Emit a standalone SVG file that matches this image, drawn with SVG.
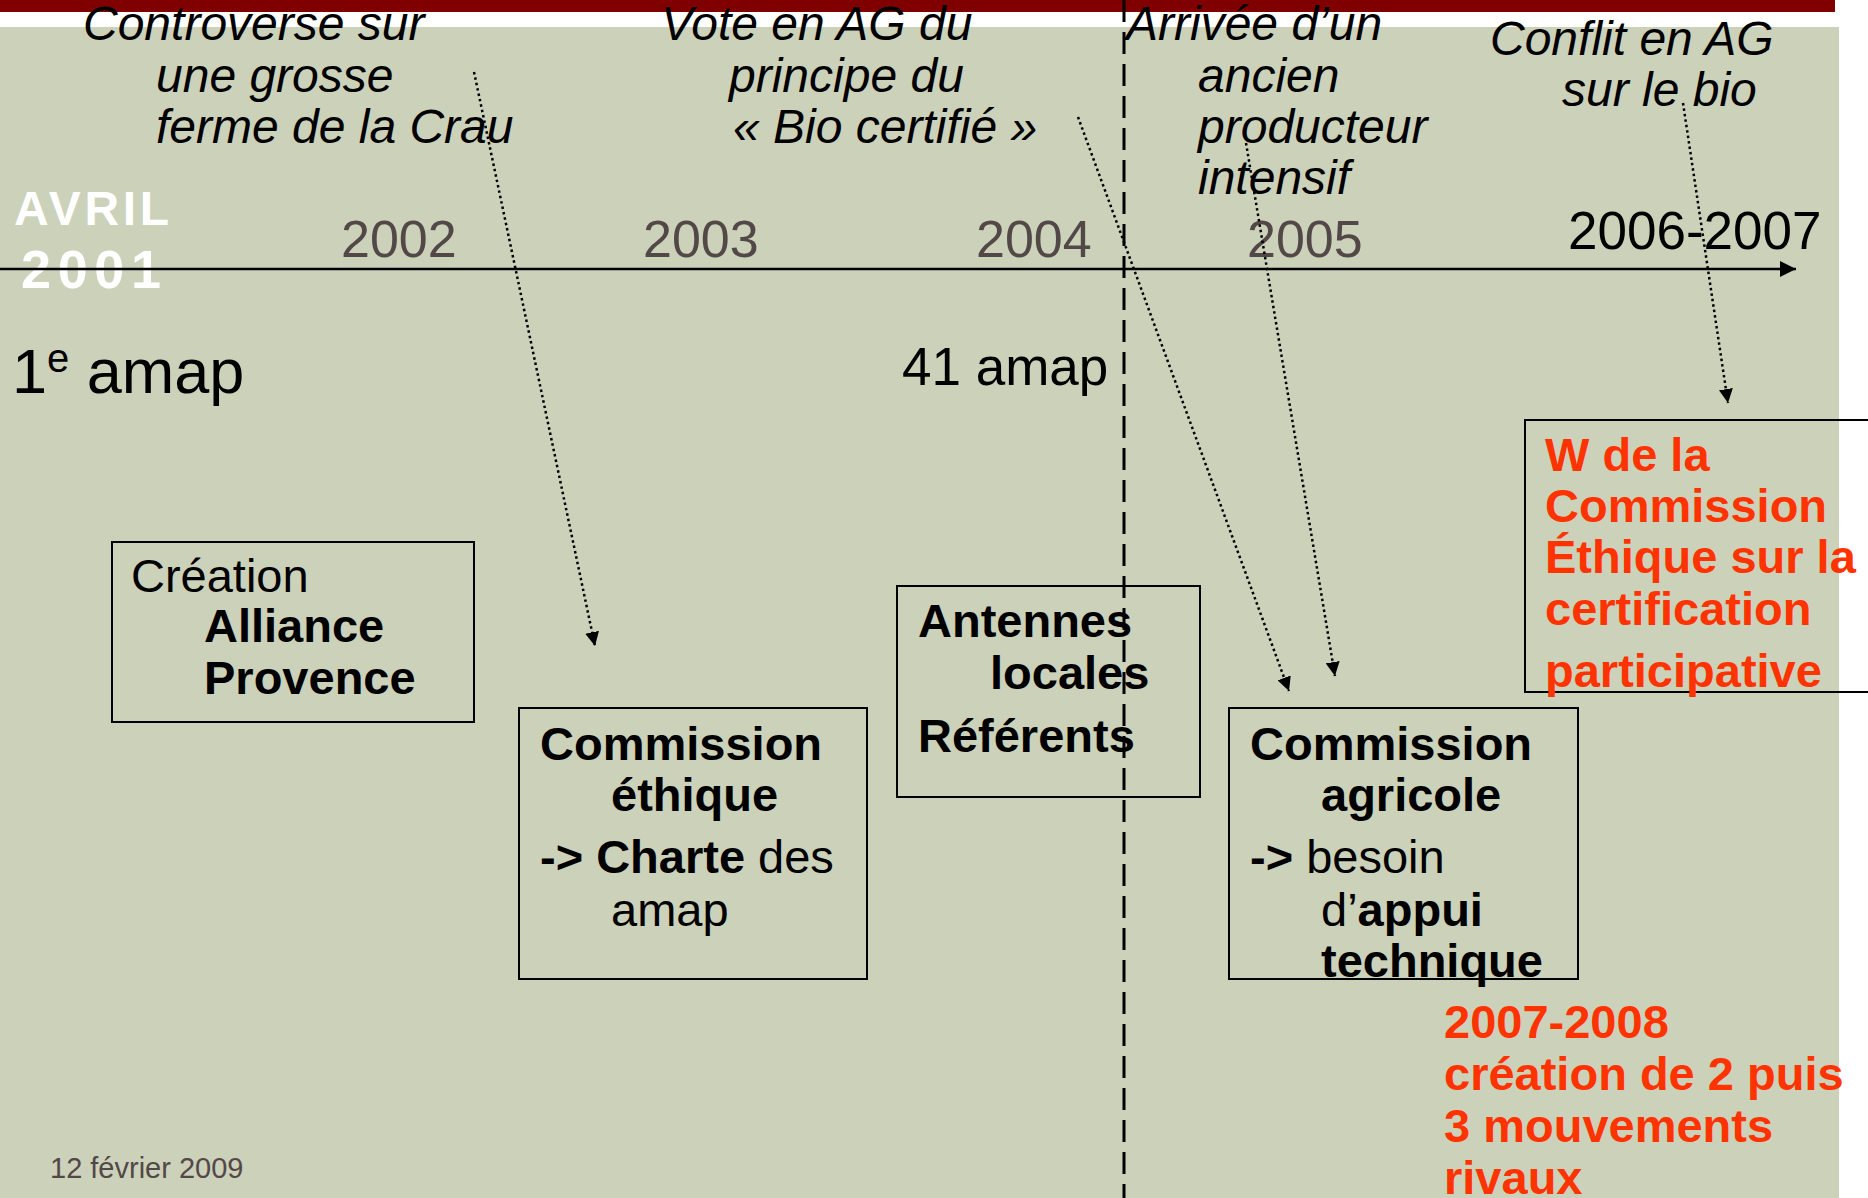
<svg xmlns="http://www.w3.org/2000/svg" width="1868" height="1198" viewBox="0 0 1868 1198">
<style>
  text { font-family: "Liberation Sans", Arial, sans-serif; fill: #000; }
  .it { font-style: italic; font-size: 48px; }
  .yr { font-size: 52px; fill: #534848; }
  .b { font-weight: bold; }
  .bx { fill: none; stroke: #000; stroke-width: 2; }
  .nt { font-size: 47px; }
  .red { fill: #FF3300; font-weight: bold; font-size: 47px; }
  .wh { fill: #fff; font-weight: bold; }
  .dot { fill: none; stroke: #000; stroke-width: 2.5; stroke-dasharray: 2.5 3; }
</style>
<defs>
  <marker id="ah" viewBox="0 0 10 10" refX="10" refY="5" markerWidth="14" markerHeight="14" markerUnits="userSpaceOnUse" orient="auto">
    <path d="M0,0 L10,5 L0,10 Z" fill="#000"/>
  </marker>
  <marker id="axh" viewBox="0 0 10 10" refX="10" refY="5" markerWidth="16" markerHeight="16" markerUnits="userSpaceOnUse" orient="auto">
    <path d="M0,0 L10,5 L0,10 Z" fill="#000"/>
  </marker>
</defs>
<rect x="0" y="0" width="1868" height="1198" fill="#fff"/>
<rect x="0" y="27" width="1839" height="1171" fill="#CCD1BA"/>
<rect x="0" y="0" width="1835" height="12" fill="#800000"/>

<g id="events">
  <text class="it" x="83" y="40">Controverse sur</text>
  <text class="it" x="156" y="92">une grosse</text>
  <text class="it" x="156" y="143">ferme de la Crau</text>
  <text class="it" x="661" y="40">Vote en AG du</text>
  <text class="it" x="729" y="92">principe du</text>
  <text class="it" x="733" y="143">« Bio certifié »</text>
  <text class="it" x="1126" y="40">Arrivée d’un</text>
  <text class="it" x="1198" y="92">ancien</text>
  <text class="it" x="1198" y="143">producteur</text>
  <text class="it" x="1198" y="194">intensif</text>
  <text class="it" x="1490" y="55">Conflit en AG</text>
  <text class="it" x="1562" y="106">sur le bio</text>
</g>

<g id="years">
  <text class="yr" x="341" y="257">2002</text>
  <text class="yr" x="643" y="257">2003</text>
  <text class="yr" x="976" y="257">2004</text>
  <text class="yr" x="1247" y="257">2005</text>
  <text x="1568" y="249" font-size="53">2006-2007</text>
</g>

<g id="avril">
  <text class="wh" x="14" y="225" font-size="48" textLength="155" lengthAdjust="spacing">AVRIL</text>
  <text class="wh" x="21" y="288" font-size="54" textLength="140" lengthAdjust="spacing">2001</text>
</g>

<g id="axis">
  <line x1="0" y1="269" x2="1796" y2="269" stroke="#000" stroke-width="2.5" marker-end="url(#axh)"/>
</g>

<g id="amap1">
  <text x="12" y="393" font-size="63">1<tspan font-size="40" dy="-21">e</tspan><tspan dy="21"> amap</tspan></text>
</g>
<g id="amap41">
  <text x="902" y="385" font-size="53">41 amap</text>
</g>

<g id="node-alliance">
  <rect class="bx" x="112" y="542" width="362" height="180"/>
  <text class="nt" x="131" y="592">Création</text>
  <text class="nt b" x="204" y="642">Alliance</text>
  <text class="nt b" x="204" y="694">Provence</text>
</g>

<g id="node-ethique">
  <rect class="bx" x="519" y="708" width="348" height="271"/>
  <text class="nt b" x="540" y="760">Commission</text>
  <text class="nt b" x="611" y="811">éthique</text>
  <text class="nt" x="540" y="873"><tspan class="b">-&gt; Charte</tspan> des</text>
  <text class="nt" x="611" y="926">amap</text>
</g>

<g id="node-antennes">
  <rect class="bx" x="897" y="586" width="303" height="211"/>
  <text class="nt b" x="918" y="637">Antennes</text>
  <text class="nt b" x="990" y="689">locales</text>
  <text class="nt b" x="918" y="752">Référents</text>
</g>

<g id="node-agricole">
  <rect class="bx" x="1229" y="708" width="349" height="271"/>
  <text class="nt b" x="1250" y="760">Commission</text>
  <text class="nt b" x="1321" y="811">agricole</text>
  <text class="nt" x="1250" y="873"><tspan class="b">-&gt;</tspan> besoin</text>
  <text class="nt" x="1321" y="926">d’<tspan class="b">appui</tspan></text>
  <text class="nt b" x="1321" y="977">technique</text>
</g>

<g id="node-certification">
  <rect class="bx" x="1525" y="420" width="360" height="272"/>
  <text class="red" x="1545" y="471">W de la</text>
  <text class="red" x="1545" y="522">Commission</text>
  <text class="red" x="1545" y="573">Éthique sur la</text>
  <text class="red" x="1545" y="625">certification</text>
  <text class="red" x="1545" y="687">participative</text>
</g>

<g id="node-rivaux">
  <text class="red" x="1444" y="1038">2007-2008</text>
  <text class="red" x="1444" y="1090">création de 2 puis</text>
  <text class="red" x="1444" y="1142">3 mouvements</text>
  <text class="red" x="1444" y="1194">rivaux</text>
</g>

<g id="connectors">
  <line class="dot" x1="474" y1="72" x2="595" y2="646" marker-end="url(#ah)"/>
  <line class="dot" x1="1078" y1="117" x2="1289" y2="691" marker-end="url(#ah)"/>
  <line class="dot" x1="1246" y1="143" x2="1335" y2="676" marker-end="url(#ah)"/>
  <line class="dot" x1="1683" y1="103" x2="1728" y2="403" marker-end="url(#ah)"/>
</g>

<g id="divider">
  <line x1="1124" y1="0" x2="1124" y2="1198" stroke="#000" stroke-width="3" stroke-dasharray="22 10"/>
</g>

<text x="50" y="1178" font-size="29" style="fill:#534848">12 février 2009</text>
</svg>
